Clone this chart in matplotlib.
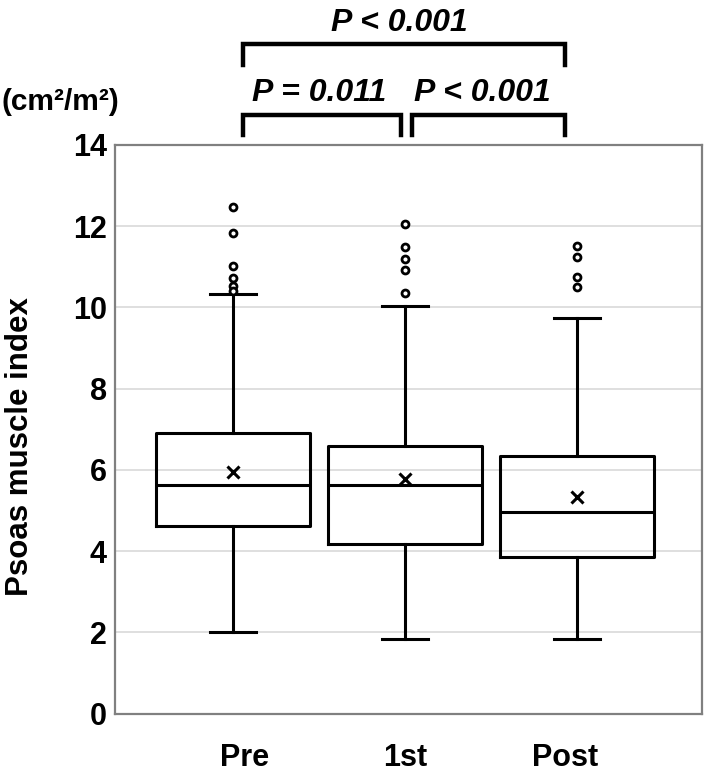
import matplotlib
matplotlib.use("Agg")
import matplotlib.pyplot as plt
from matplotlib.lines import Line2D

plt.rcParams['font.family'] = ['Liberation Sans', 'DejaVu Sans']

categories = ["Pre", "1st", "Post"]
q1 = [4.63, 4.18, 3.87]
medians = [5.64, 5.62, 4.96]
q3 = [6.92, 6.58, 6.35]
whisker_low = [2.02, 1.83, 1.83]
whisker_high = [10.33, 10.04, 9.73]
means = [5.96, 5.77, 5.33]
outliers = [
    [12.47, 11.84, 11.02, 10.73, 10.52, 10.40],
    [12.06, 11.50, 11.20, 10.93, 10.36],
    [11.51, 11.25, 10.75, 10.50],
]
yticks = [0, 2, 4, 6, 8, 10, 12, 14]
comparisons = [(0, 1, "P = 0.011"), (1, 2, "P < 0.001"), (0, 2, "P < 0.001")]

fig = plt.figure(figsize=(7.08, 7.72), dpi=100)
ax = fig.add_axes([0.1624, 0.0755, 0.991 - 0.1624, 0.8122 - 0.0755])

positions = [1, 2, 3]
stats = []
for i, c in enumerate(categories):
    stats.append(dict(label=c, q1=q1[i], med=medians[i], q3=q3[i],
                      whislo=whisker_low[i], whishi=whisker_high[i],
                      mean=means[i], fliers=outliers[i]))

lw = 2.2
ax.bxp(stats, positions=positions, widths=0.9, showmeans=True,
       showfliers=True, capwidths=0.27,
       boxprops=dict(color='black', linewidth=lw),
       whiskerprops=dict(color='black', linewidth=lw),
       capprops=dict(color='black', linewidth=lw),
       medianprops=dict(color='black', linewidth=lw),
       meanprops=dict(marker='x', markeredgecolor='black', markersize=9,
                      markeredgewidth=2.2),
       flierprops=dict(marker='o', markerfacecolor='white',
                       markeredgecolor='black', markersize=5,
                       markeredgewidth=2.0),
       zorder=3)

ax.set_xlim(0.314, 3.725)
ax.set_ylim(0, 14)
ax.set_yticks(yticks)
ax.set_yticklabels([str(t) for t in yticks], fontsize=22, fontweight='bold')
ax.set_xticks([1.07, 2.0, 2.93])
ax.set_xticklabels(categories, fontsize=22, fontweight='bold')
ax.tick_params(axis='both', length=0)
ax.tick_params(axis='y', pad=6)
ax.tick_params(axis='x', pad=21)

for t in yticks[1:-1]:
    ax.axhline(t, color='#d9d9d9', linewidth=1.2, zorder=1)

for s in ax.spines.values():
    s.set_color('#808080')
    s.set_linewidth(1.6)

ax.set_ylabel("Psoas muscle index", fontsize=22.5, fontweight='bold')
ax.yaxis.set_label_coords(-0.137, 0.469)

fig.text(60 / 708, 1 - 102 / 772, "(cm\u00b2/m\u00b2)", fontsize=21.5,
         fontweight='bold', ha='center', va='center')

# significance brackets (x in data, y in axes coords)
trans = ax.get_xaxis_transform()
bracket_x = {(0, 1): (1.061, 1.977), (1, 2): (2.041, 2.933), (0, 2): (1.061, 2.933)}
bracket_y = {(0, 1): (1.0526, 1.0174), (1, 2): (1.0526, 1.0174), (0, 2): (1.1776, 1.1405)}
text_y = {(0, 1): 1.0913, (1, 2): 1.0913, (0, 2): 1.2143}
text_x = {(0, 1): 1.50, (1, 2): 2.45, (0, 2): 1.965}
for a, b, label in comparisons:
    x0, x1 = bracket_x[(a, b)]
    ytop, ybot = bracket_y[(a, b)]
    line = Line2D([x0, x0, x1, x1], [ybot, ytop, ytop, ybot], transform=trans,
                  color='black', linewidth=3.2, clip_on=False,
                  solid_joinstyle='miter')
    ax.add_line(line)
    ax.text(text_x[(a, b)], text_y[(a, b)], label, transform=trans,
            ha='center', va='center', fontsize=23, fontweight='bold',
            fontstyle='italic', clip_on=False)

fig.savefig("out.png", dpi=100)
